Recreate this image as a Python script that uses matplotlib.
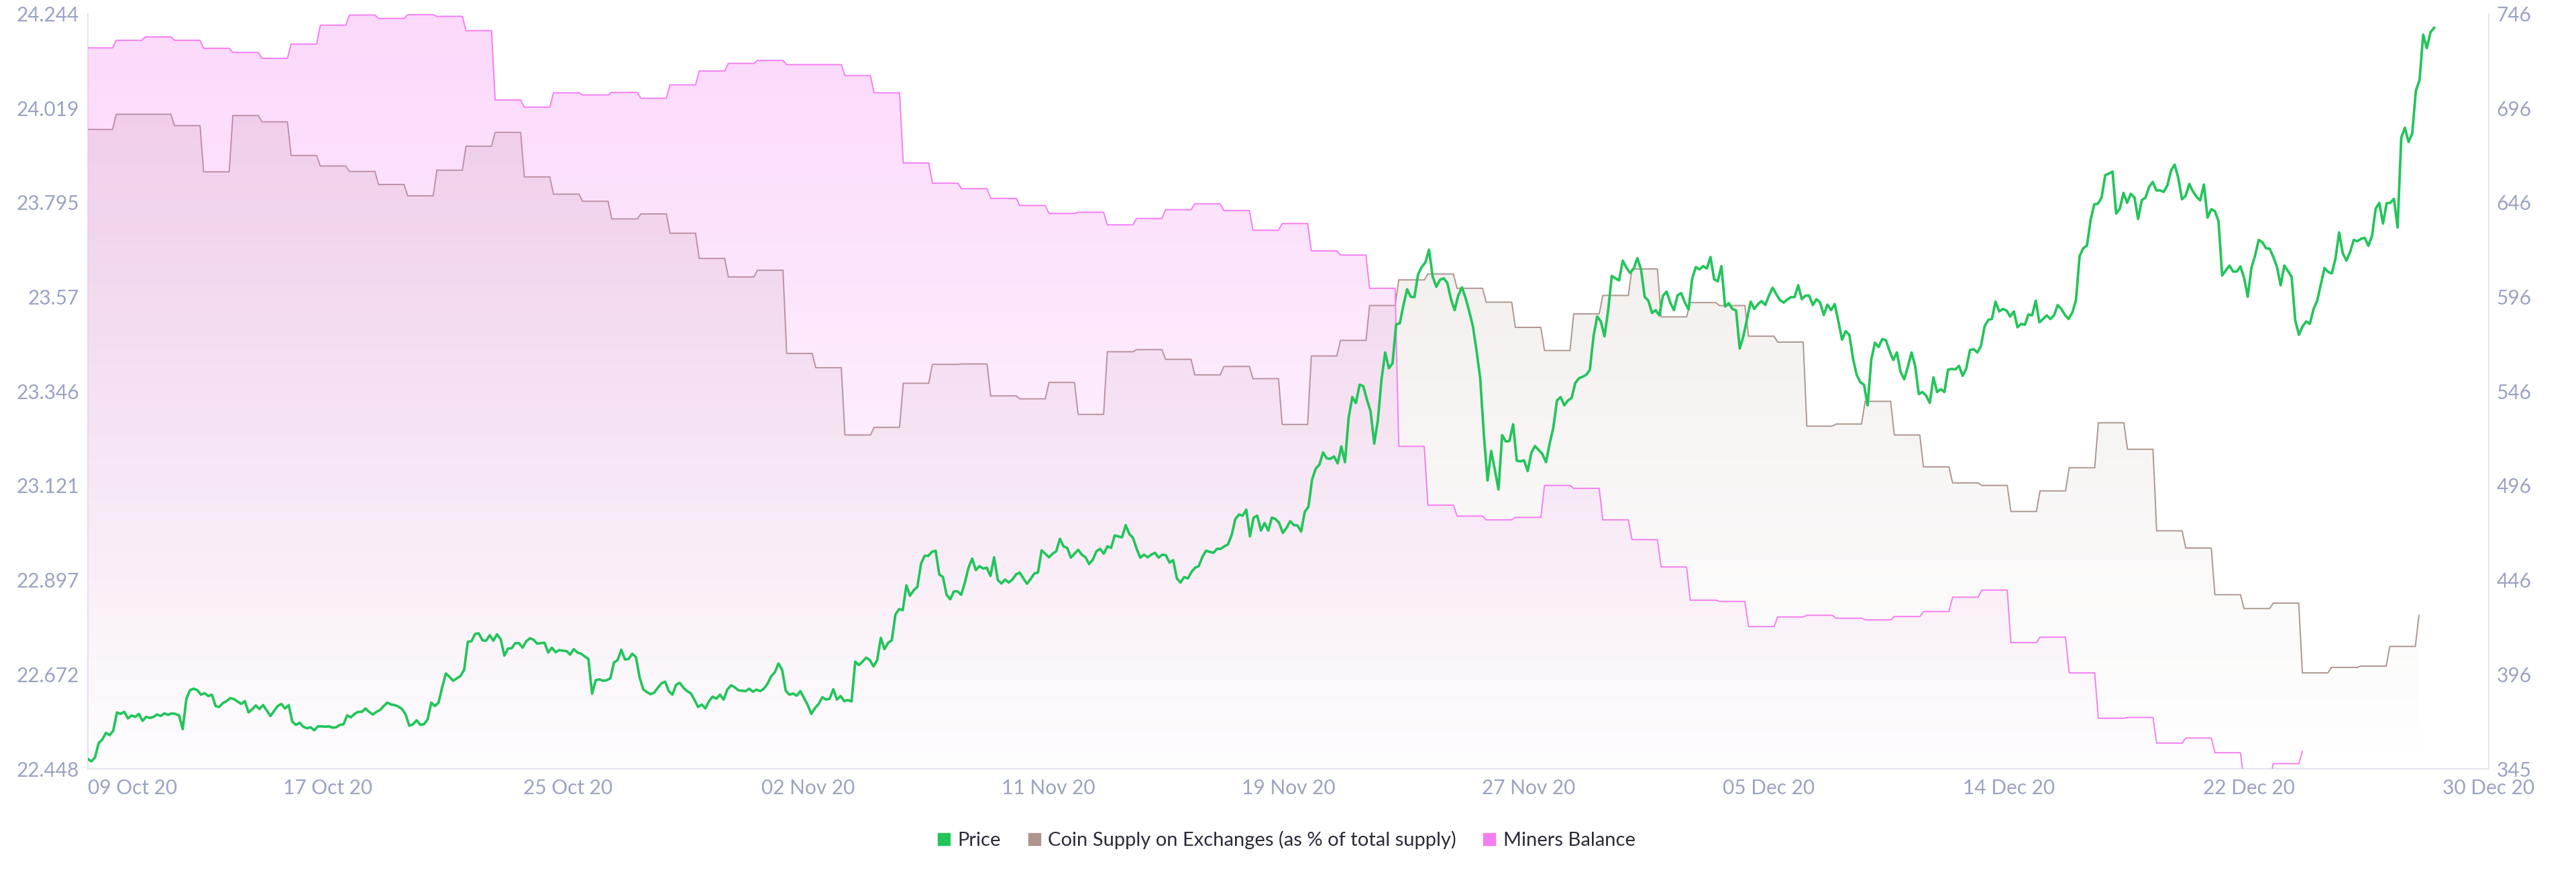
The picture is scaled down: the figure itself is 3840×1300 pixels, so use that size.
import matplotlib
matplotlib.use("Agg")
import matplotlib.pyplot as plt
import matplotlib.dates as mdates
from matplotlib.colors import to_rgb
from matplotlib.lines import Line2D
from matplotlib.ticker import FixedLocator, FixedFormatter
import numpy as np
import pandas as pd

plt.rcParams["font.family"] = ["Lato", "DejaVu Sans"]

# ETH price (USD), evenly spaced samples from the left edge of the chart to the last point
price_start = "2020-10-09 06:00"
price_end = "2020-12-28 18:00"
price = [
    350.2, 348.9, 351.0, 358.6, 360.5, 364.1, 362.8, 365.2, 374.9, 374.1,
    375.2, 371.7, 373.3, 372.5, 374.1, 370.4, 372.5, 372.0, 372.5, 373.8,
    373.0, 374.4, 373.6, 374.4, 374.1, 373.3, 366.0, 382.2, 386.7, 387.5,
    386.7, 384.3, 385.1, 383.6, 384.3, 378.3, 377.8, 379.9, 380.9, 382.5,
    382.0, 380.7, 379.4, 380.9, 374.9, 376.5, 378.6, 376.7, 378.8, 375.9,
    373.0, 375.7, 378.3, 379.4, 377.0, 378.8, 369.9, 368.3, 369.4, 367.3,
    366.5, 367.0, 365.4, 367.5, 367.5, 367.3, 367.5, 366.8, 367.0, 368.3,
    368.6, 373.3, 372.3, 374.1, 375.2, 375.2, 377.0, 375.2, 373.8, 375.2,
    376.2, 378.3, 380.1, 379.1, 378.8, 378.0, 376.7, 373.8, 367.8, 368.6,
    370.7, 368.3, 368.6, 371.2, 380.1, 378.3, 380.1, 388.3, 395.6, 393.8,
    391.7, 393.0, 394.3, 397.5, 412.4, 412.7, 416.6,
    416.9, 413.2, 413.0, 415.9, 413.0, 416.4, 413.8, 405.1, 408.8,
    409.0, 411.7, 411.7, 409.3, 412.7, 414.3, 413.5, 411.4, 411.7, 411.9,
    406.7, 409.3, 406.9, 408.0, 407.7, 407.5, 405.6, 408.5, 406.7, 406.1,
    404.6, 403.3, 384.9, 392.0, 392.5, 391.7, 392.0, 393.0, 401.4, 402.7,
    408.2, 403.0, 403.3, 406.1, 404.3, 393.5, 387.2, 385.7, 384.6, 385.4,
    388.0, 390.4, 391.2, 386.2, 384.3, 389.6, 390.6, 388.0, 386.2, 385.1,
    381.7, 377.8, 379.1, 377.0, 380.9, 383.3, 382.2, 384.3, 381.7, 387.0,
    389.3, 388.3, 386.7, 386.4, 386.2, 387.5, 385.9, 387.0, 386.2, 387.5,
    390.1, 394.1, 396.2, 400.9, 397.5, 386.4, 384.3, 384.9, 383.8, 386.2,
    382.5, 378.8, 374.1, 377.2, 379.4, 383.0, 381.7, 382.2, 387.2, 381.7,
    383.6, 380.9, 381.5, 380.7, 401.9, 400.1, 401.9,
    404.0, 402.7, 399.3, 402.7, 414.5, 408.5, 411.9, 413.2, 426.9, 429.8,
    429.2, 442.4, 436.9, 439.8, 441.6, 453.9, 458.1, 458.1, 460.2, 460.8,
    448.2, 446.8, 437.4, 435.0, 439.2, 439.2, 437.4, 443.9, 451.8, 456.6,
    450.5, 452.6, 451.3, 451.8, 447.4, 457.3, 445.3, 443.4, 445.5, 443.9,
    445.5, 448.2, 449.2, 446.1, 443.2, 445.8, 448.7, 449.2, 461.0, 459.2,
    457.3, 459.2, 460.5, 467.1, 463.1, 462.3, 457.1, 459.2, 461.3, 458.7,
    457.3, 453.7, 456.0, 460.5, 461.8, 459.2, 463.1, 462.3, 468.9, 468.4,
    467.9, 474.4, 469.7, 467.6, 461.8, 457.1, 458.7, 457.3, 458.7, 459.7,
    457.1, 458.7, 458.4, 454.5, 455.8, 446.1, 443.9, 446.8, 446.1, 449.5,
    451.8, 452.6, 457.6, 460.8, 460.2, 459.7, 461.8, 461.8, 463.1, 464.2,
    469.2, 477.6, 480.0, 479.4, 482.6, 468.4, 478.4,
    479.4, 471.5, 475.5, 471.5, 478.4, 477.6, 475.5, 470.2, 472.9, 476.5,
    474.4, 474.2, 471.0, 481.5, 484.1, 498.6, 504.4, 506.5, 513.0, 509.9,
    509.6, 510.9, 507.2, 516.2, 507.8, 531.4, 542.4, 539.3, 549.0, 548.2,
    541.1, 534.8, 517.7, 530.1, 551.9, 566.1, 557.7, 560.3, 581.0, 581.6,
    591.3, 599.7, 595.7, 595.5, 607.6, 611.5, 613.9, 620.7, 606.3, 601.0,
    604.7, 605.5, 603.1, 594.4, 588.6, 596.5, 600.7, 595.0, 587.9, 580.0,
    566.9, 552.4, 522.2, 498.1, 513.8, 503.8, 493.3, 522.2, 518.8, 519.1,
    528.0, 508.6, 508.3, 508.8, 503.1, 513.0, 516.4, 514.3, 512.2, 507.8,
    517.7, 526.2, 540.6, 542.4, 538.0, 540.6, 541.9, 549.8, 552.4, 553.2,
    554.2, 556.9, 574.7, 585.2, 582.6, 574.7, 588.4, 606.8, 605.5, 604.4,
    614.9, 611.2, 608.3, 610.7, 616.2, 610.2, 595.7,
    593.6, 587.1, 588.6, 585.8, 596.3, 598.4, 592.6, 588.6, 596.5, 597.6,
    592.6, 588.9, 605.5, 611.5, 610.2, 612.0, 610.7, 616.8, 605.0, 603.9,
    612.0, 590.5, 592.3, 589.2, 588.4, 568.2, 574.7, 583.9, 593.1, 589.2,
    591.8, 593.4, 591.3, 596.3, 600.5, 597.1, 593.9, 592.6, 594.2, 595.5,
    595.5, 601.8, 594.4, 596.3, 596.3, 591.3, 594.4, 592.6, 586.0, 591.5,
    588.6, 591.8, 582.6, 572.9, 577.4, 575.5, 562.9, 554.2, 550.3, 549.0,
    538.0, 562.4, 571.3, 569.0, 573.2, 572.6, 566.9, 562.1, 566.1, 555.8,
    551.9, 558.5, 566.1, 559.0, 544.0, 545.1, 543.2, 539.3, 552.9, 545.1,
    546.6, 545.1, 556.9, 557.4, 557.1, 559.0, 553.7, 557.7, 567.4, 567.9,
    566.1, 569.5, 580.0, 583.4, 583.9, 593.1, 587.9, 589.2, 588.4, 585.2,
    587.9, 579.5, 581.3, 580.8, 586.3, 585.8, 593.6,
    582.1, 583.9, 585.8, 583.9, 585.8, 591.3, 589.2, 586.0, 583.9, 587.3,
    593.9, 617.3, 621.5, 622.8, 636.4, 644.8, 645.1, 648.3, 660.3, 661.1,
    662.2, 639.9, 642.5, 650.9, 645.6, 650.4, 648.5, 637.0, 647.0, 648.3,
    654.0, 656.7, 652.2, 652.2, 651.4, 654.8, 662.7, 665.9, 658.8, 647.5,
    649.3, 655.6, 651.7, 648.8, 646.9, 655.3, 637.7, 642.2, 641.2, 635.9,
    607.0, 609.7, 612.3, 609.1, 609.1, 611.8, 605.7, 595.7, 611.0, 617.5,
    625.9, 624.6, 621.5, 621.2, 616.8, 611.5, 601.8, 612.3, 609.4, 606.3,
    583.1, 575.5, 580.0, 582.6, 581.3, 589.2, 593.6, 602.3, 611.0, 608.9,
    608.1, 616.0, 629.9, 618.8, 614.9, 619.4, 625.9, 625.2, 626.5, 627.0,
    622.8, 628.0, 642.5, 645.6, 634.6, 645.4, 645.6, 647.7, 632.5, 680.3,
    685.5, 677.9, 682.4, 705.2, 710.8, 734.9, 727.8, 736.2, 738.6,
]

# daily values starting 09 Oct 2020
step_start = "2020-10-09"
coin_supply = [
    23.969, 24.005, 24.005, 23.978, 23.868, 24.002, 23.987, 23.907, 23.882, 23.869,
    23.838, 23.811, 23.872, 23.929, 23.962, 23.856, 23.815, 23.798, 23.756, 23.768,
    23.722, 23.662, 23.618, 23.634, 23.436, 23.402, 23.242, 23.260, 23.365, 23.410,
    23.411, 23.335, 23.328, 23.367, 23.291, 23.440, 23.445, 23.422, 23.385, 23.405,
    23.376, 23.267, 23.430, 23.467, 23.550, 23.611, 23.625, 23.591, 23.558, 23.498,
    23.443, 23.530, 23.574, 23.637, 23.523, 23.557, 23.550, 23.477, 23.463, 23.263,
    23.268, 23.322, 23.242, 23.166, 23.128, 23.122, 23.060, 23.109, 23.164, 23.271,
    23.208, 23.014, 22.973, 22.862, 22.829, 22.842, 22.676, 22.689, 22.692, 22.739,
    22.813,
]
# miners balance has no axis of its own; read against the left scale
miners_balance = [
    24.163, 24.181, 24.189, 24.181, 24.162, 24.152, 24.138, 24.172, 24.217, 24.241,
    24.233, 24.242, 24.238, 24.204, 24.039, 24.022, 24.056, 24.051, 24.057, 24.043,
    24.075, 24.108, 24.126, 24.133, 24.123, 24.123, 24.097, 24.056, 23.889, 23.841,
    23.828, 23.805, 23.788, 23.769, 23.772, 23.742, 23.757, 23.778, 23.792, 23.776,
    23.729, 23.745, 23.680, 23.670, 23.591, 23.215, 23.075, 23.049, 23.040, 23.046,
    23.122, 23.115, 23.040, 22.993, 22.928, 22.849, 22.846, 22.786, 22.809, 22.813,
    22.806, 22.802, 22.810, 22.822, 22.856, 22.873, 22.748, 22.761, 22.676, 22.568,
    22.570, 22.509, 22.521, 22.486, 22.419, 22.460, 22.489,
]

x_start = "2020-10-09 06:00"
x_end = "2020-12-30 15:00"
x_tick_labels = ["09 Oct 20", "17 Oct 20", "25 Oct 20", "02 Nov 20", "11 Nov 20",
                 "19 Nov 20", "27 Nov 20", "05 Dec 20", "14 Dec 20", "22 Dec 20", "30 Dec 20"]
left_tick_labels = ["22.448", "22.672", "22.897", "23.121", "23.346",
                    "23.57", "23.795", "24.019", "24.244"]
right_tick_labels = ["345", "396", "446", "496", "546", "596", "646", "696", "746"]

GREEN = "#22c55a"
BROWN = "#ae968e"
PINK = "#f47ef1"
TICK = "#9aa3c1"
SPINE = "#e3e6f0"


def to_num(values):
    return mdates.date2num(pd.DatetimeIndex(values).to_numpy())


def step_xy(values, start):
    # value changes shortly after midnight, with a short ramp between days
    days = pd.date_range(start, periods=len(values), freq="D")
    xs, ys = [], []
    for i, (d, v) in enumerate(zip(days, values)):
        xs.append(d + pd.Timedelta(hours=5.5))
        ys.append(v)
        if i < len(values) - 1:
            xs.append(d + pd.Timedelta(hours=26.5))
            ys.append(v)
    return to_num(xs), np.array(ys)


def gradient_fill(ax, x, y, base, color, a_top, a_bottom):
    poly = ax.fill_between(x, y, base, facecolor="none", edgecolor="none")
    grad = np.zeros((256, 1, 4))
    grad[..., :3] = to_rgb(color)
    grad[:, 0, 3] = np.linspace(a_top, a_bottom, 256)
    im = ax.imshow(grad, extent=(0, 1, 0, 1), transform=ax.transAxes,
                   aspect="auto", origin="upper", zorder=1)
    im.set_clip_path(poly.get_paths()[0], transform=ax.transData)


fig = plt.figure(figsize=(38.4, 13), dpi=100)
ax = fig.add_axes([0.03404, 0.11846, 0.93211, 0.86569])
ax_m = ax.twinx()
ax_p = ax.twinx()

y_lo, y_hi = 22.448, 24.244
p_lo, p_hi = 345, 746

cx, cy = step_xy(coin_supply, step_start)
gradient_fill(ax, cx, cy, y_lo, BROWN, 0.22, 0.0)
ax.plot(cx, cy, color=BROWN, lw=1.4, zorder=3)

mx, my = step_xy(miners_balance, step_start)
gradient_fill(ax_m, mx, my, y_lo - 0.1, PINK, 0.30, 0.01)
ax_m.plot(mx, my, color=PINK, lw=1.4, zorder=3)

px = to_num(pd.date_range(price_start, price_end, periods=len(price)))
ax_p.plot(px, price, color=GREEN, lw=2.7, zorder=4)

x0, x1 = to_num([x_start, x_end])
for a in (ax, ax_m, ax_p):
    a.set_xlim(x0, x1)
ax.set_ylim(y_lo, y_hi)
ax_m.set_ylim(y_lo, y_hi)
ax_p.set_ylim(p_lo, p_hi)
ax_m.axis("off")

ax.xaxis.set_major_locator(FixedLocator(np.linspace(x0, x1, len(x_tick_labels))))
ax.xaxis.set_major_formatter(FixedFormatter(x_tick_labels))
ax.yaxis.set_major_locator(FixedLocator(np.linspace(y_lo, y_hi, len(left_tick_labels))))
ax.yaxis.set_major_formatter(FixedFormatter(left_tick_labels))
ax_p.yaxis.set_major_locator(FixedLocator(np.linspace(p_lo, p_hi, len(right_tick_labels))))
ax_p.yaxis.set_major_formatter(FixedFormatter(right_tick_labels))

ax.tick_params(axis="x", length=0, pad=11, labelsize=21.5, colors=TICK)
ax.tick_params(axis="y", length=0, pad=9, labelsize=21.5, colors=TICK)
ax_p.tick_params(axis="y", length=0, pad=8.5, labelsize=21.5, colors=TICK)
labels = ax.get_xticklabels()
labels[0].set_ha("left")
labels[0].set_x(labels[0].get_position()[0])

for s in ("top", "right"):
    ax.spines[s].set_visible(False)
for s in ("left", "bottom"):
    ax.spines[s].set_color(SPINE)
    ax.spines[s].set_linewidth(1.5)
for s in ("top", "left", "bottom"):
    ax_p.spines[s].set_visible(False)
ax_p.spines["right"].set_color(SPINE)
ax_p.spines["right"].set_linewidth(1.5)

handles = [Line2D([], [], marker="s", linestyle="none", markersize=13,
                  markerfacecolor=c, markeredgecolor=c) for c in (GREEN, BROWN, PINK)]
fig.legend(handles, ["Price", "Coin Supply on Exchanges (as % of total supply)", "Miners Balance"],
           loc="center", bbox_to_anchor=(0.4995, 0.0369), ncol=3, frameon=False,
           fontsize=21, labelcolor="#2b2b3a", handlelength=0.6, handletextpad=0.4,
           columnspacing=1.4)

fig.savefig("out.png", dpi=100)
